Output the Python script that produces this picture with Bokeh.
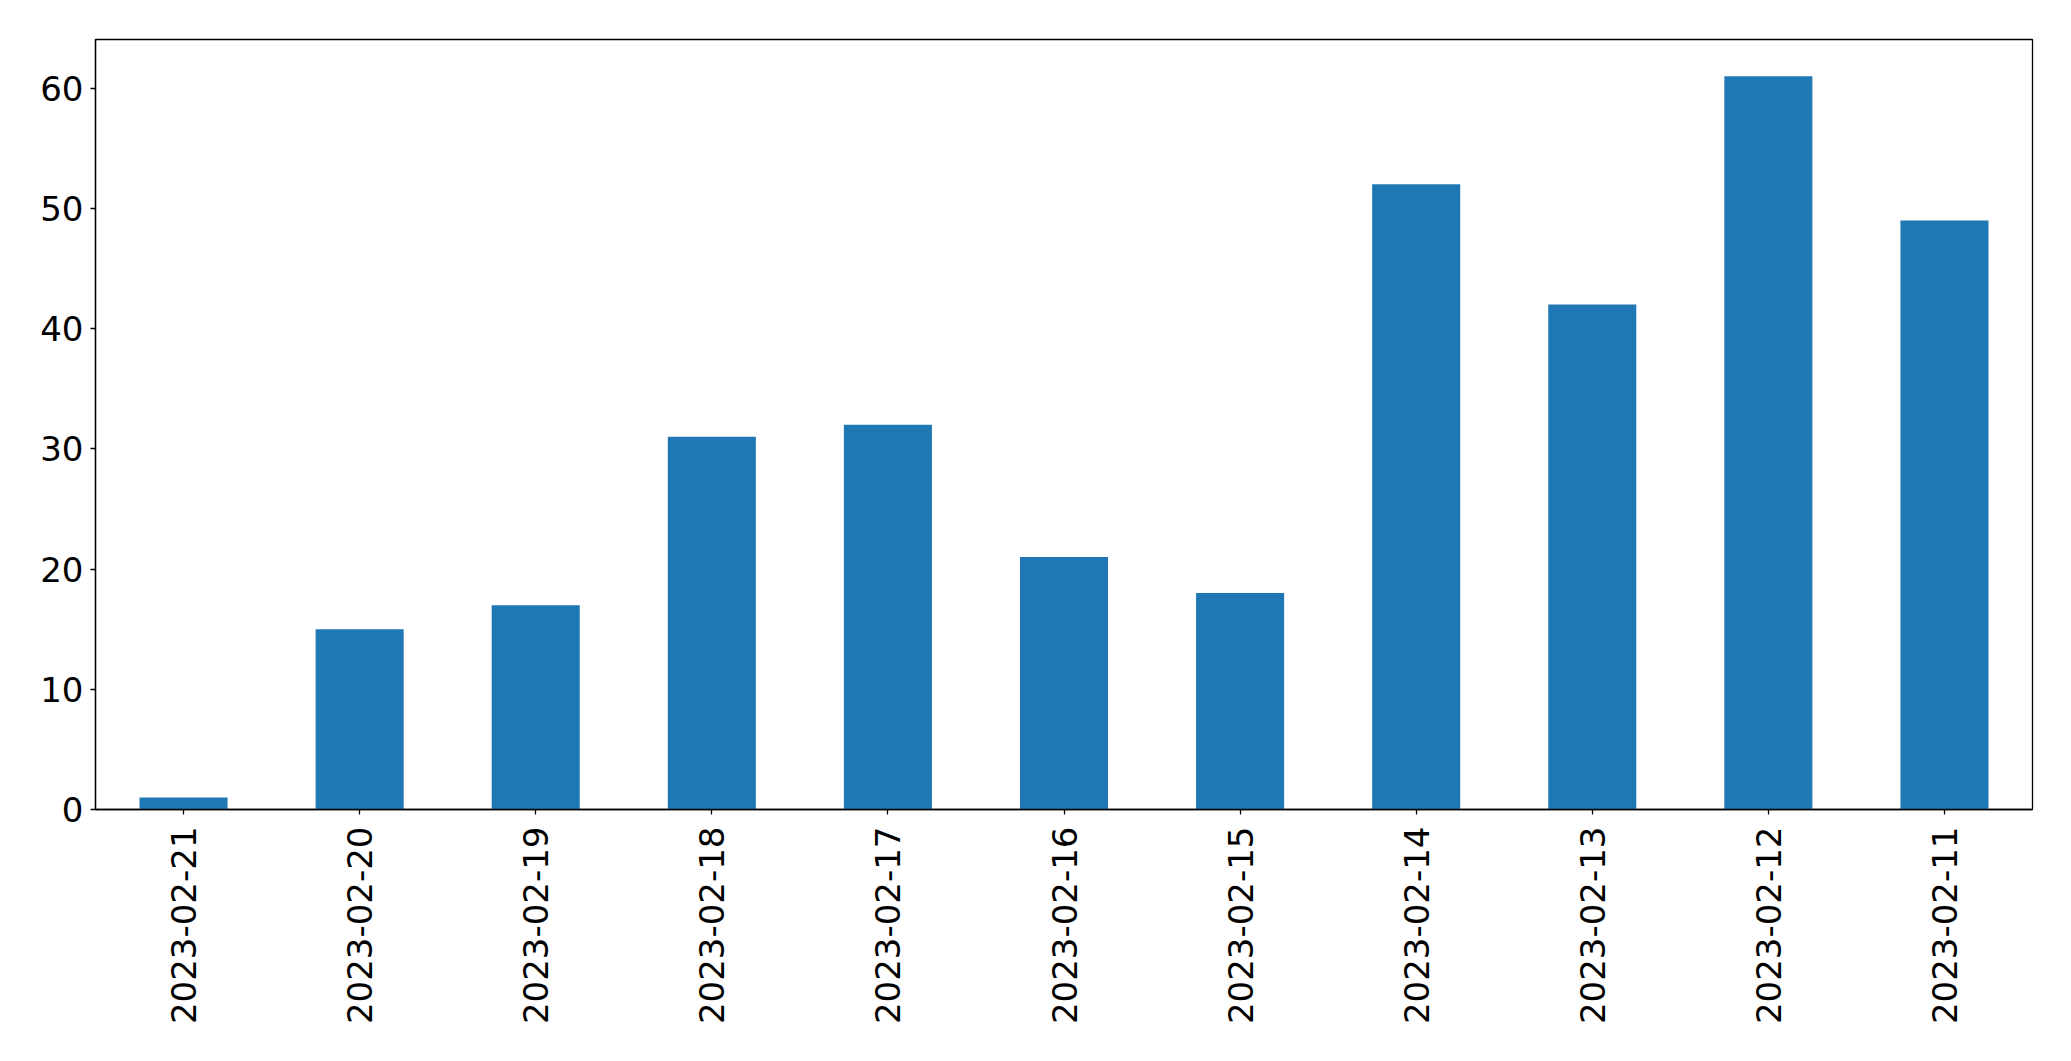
import math
from bokeh.plotting import figure
from bokeh.models import ColumnDataSource, SingleIntervalTicker, Range1d
from bokeh.embed import file_html
from bokeh.resources import INLINE

dates = ["2023-02-21", "2023-02-20", "2023-02-19", "2023-02-18", "2023-02-17",
         "2023-02-16", "2023-02-15", "2023-02-14", "2023-02-13", "2023-02-12",
         "2023-02-11"]
counts = [1, 15, 17, 31, 32, 21, 18, 52, 42, 61, 49]

source = ColumnDataSource(data=dict(dates=dates, counts=counts))

p = figure(x_range=dates, width=2071, height=1061, output_backend="svg",
           toolbar_location=None, min_border_left=95, min_border_right=39,
           min_border_top=39, min_border_bottom=252)
p.x_range.range_padding = 0
p.y_range = Range1d(0, max(counts) * 1.05)

p.vbar(x="dates", top="counts", width=0.5, source=source,
       fill_color="#1f77b4", line_color=None)

p.xgrid.grid_line_color = None
p.ygrid.grid_line_color = None
p.outline_line_color = "black"
p.outline_line_alpha = 1
p.outline_line_width = 1.3

p.yaxis.ticker = SingleIntervalTicker(interval=10)
for ax in (p.xaxis, p.yaxis):
    ax.major_label_text_font = "DejaVu Sans"
    ax.major_label_text_font_size = "34px"
    ax.major_label_text_color = "black"
    ax.axis_line_color = "black"
    ax.axis_line_width = 1.3
    ax.major_tick_line_color = "black"
    ax.major_tick_line_width = 1.3
    ax.major_tick_in = 0
    ax.major_tick_out = 5
    ax.minor_tick_line_color = None
    ax.major_label_standoff = 7

p.xaxis.major_label_orientation = math.pi / 2
p.xaxis.major_label_standoff = 12

open("out.html", "w").write(file_html(p, INLINE))
